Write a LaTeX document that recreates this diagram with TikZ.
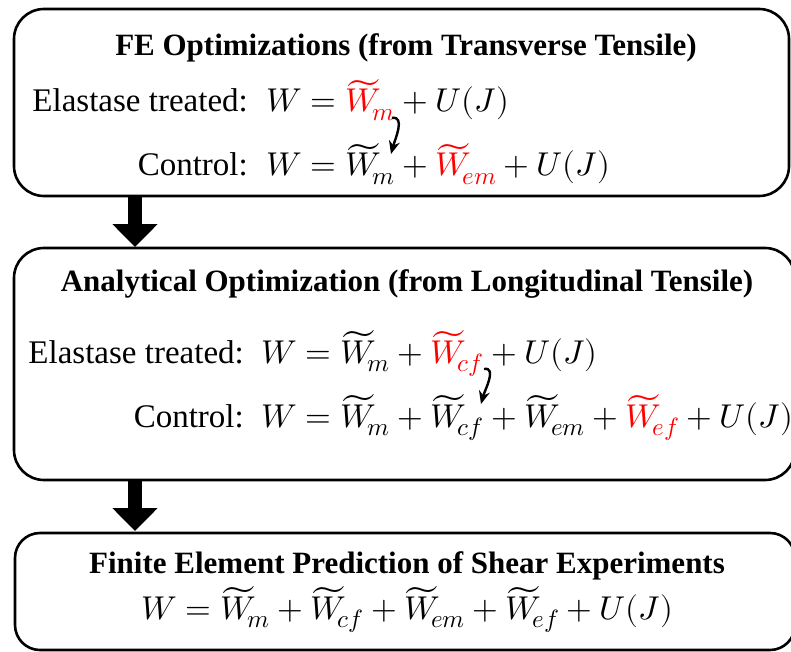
\documentclass[tikz,border=0pt]{standalone}
\usepackage{fontspec}
\usepackage{unicode-math}
\setmainfont{Liberation Serif}
\setmathfont{Latin Modern Math}
\DeclareMathSizes{33}{33}{25}{20}
\usetikzlibrary{arrows.meta}
\newcommand{\wt}[1]{\widetilde{W}_{\!#1}}
\newcommand{\rw}[1]{\textcolor{red}{\widetilde{W}_{\!#1}}}
\tikzset{
  panel/.style={draw, line width=2.6pt, rounded corners=30pt},
  heading/.style={anchor=base, font=\fontsize{31}{37}\selectfont\bfseries, inner sep=0pt},
  lbl/.style={anchor=base east, font=\fontsize{33}{40}\selectfont, inner sep=0pt},
  eqn/.style={anchor=base west, font=\fontsize{33}{40}\selectfont, inner sep=0pt},
  flow/.style={line width=14pt, -{Triangle[width=44pt,length=23pt]}},
  hop/.style={line width=2.4pt, -{Stealth[length=13pt,width=11pt]}}
}
\begin{document}
\begin{tikzpicture}[x=1pt,y=-1pt]
\useasboundingbox (0,0) rectangle (791,652);

% panels
\node[panel, minimum width=775pt, minimum height=187pt] (p1) at (401.5,102.5) {};
\node[panel, minimum width=781pt, minimum height=232pt] (p2) at (404.5,364) {};
\node[panel, rounded corners=25pt, minimum width=780pt, minimum height=117pt] (p3) at (405,591.5) {};

% panel 1: transverse tensile
\node[heading] (h1) at (406,56) {FE Optimizations (from Transverse Tensile)};
\node[lbl] (l1a) at (248,112) {Elastase treated:};
\node[eqn] (e1a) at (266,112) {$W = \rw{m} + U(J)$};
\node[lbl] (l1b) at (248,176) {Control:};
\node[eqn] (e1b) at (266,176) {$W = \wt{m} + \rw{em} + U(J)$};

% panel 2: longitudinal tensile
\node[heading] (h2) at (407,291) {Analytical Optimization (from Longitudinal Tensile)};
\node[lbl] (l2a) at (244,363) {Elastase treated:};
\node[eqn] (e2a) at (261,363) {$W = \wt{m} + \rw{cf} + U(J)$};
\node[lbl] (l2b) at (244,427) {Control:};
\node[eqn] (e2b) at (261,427) {$W = \wt{m} + \wt{cf} + \wt{em} + \rw{ef} + U(J)$};

% panel 3: shear prediction
\node[heading] (h3) at (407,573) {Finite Element Prediction of Shear Experiments};
\node[eqn, anchor=base] (e3) at (407,619) {$W = \wt{m} + \wt{cf} + \wt{em} + \wt{ef} + U(J)$};

% flow arrows between panels
\coordinate (a1s) at (135,196);
\coordinate (a1e) at (135,247);
\coordinate (a2s) at (135,480);
\coordinate (a2e) at (135,531);
\draw[flow] (a1s) -- (a1e);
\draw[flow] (a2s) -- (a2e);

% term-carrying arrows
\coordinate (c1s) at (392,118);
\coordinate (c1e) at (391,154);
\draw[hop] (c1s) to[out=10, in=75] (c1e);
\coordinate (c2s) at (484,369);
\coordinate (c2e) at (481,404);
\draw[hop] (c2s) to[out=10, in=75] (c2e);
\end{tikzpicture}
\end{document}
